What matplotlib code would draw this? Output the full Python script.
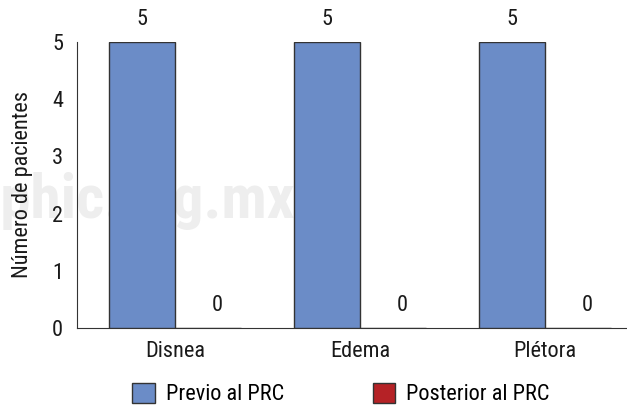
import numpy as np
import matplotlib.pyplot as plt

categories = ["Disnea", "Edema", "Plétora"]
previo = [5, 5, 5]
posterior = [0, 0, 0]
series_names = ["Previo al PRC", "Posterior al PRC"]
y_ticks = [0, 1, 2, 3, 4, 5]

plt.rcParams["font.family"] = ["Roboto Condensed", "Liberation Sans", "DejaVu Sans"]
FS = 16
TXT = "#1a1a1a"

fig = plt.figure(figsize=(6.27, 4.11), dpi=100)
ax = fig.add_axes([77 / 627, 83 / 411, 1 - 77 / 627, (328 - 42) / 411])

x = np.arange(len(categories))
w = 0.357
b1 = ax.bar(x - w / 2, previo, w, color="#6b8cc7", edgecolor="#333333", linewidth=1.0,
            label=series_names[0], zorder=3)
b2 = ax.bar(x + w / 2, posterior, w, color="#b52226", edgecolor="#333333", linewidth=1.0,
            label=series_names[1], zorder=3)

for bars, vals in ((b1, previo), (b2, posterior)):
    for rect, v in zip(bars, vals):
        ax.text(rect.get_x() + rect.get_width() / 2 + (0.05 if v == 0 else 0), v + 0.4, str(v),
                ha="center", va="center", fontsize=FS, color=TXT)

# faint watermark behind the bars
ax.text(295 / 627, 210 / 411, "medigraphic.org.mx", transform=fig.transFigure,
        ha="right", va="center", fontsize=44, fontweight="bold", color="#eeeeee", zorder=0)

ax.set_xlim(-0.53, 2.443)
ax.set_ylim(0, 5)
ax.set_yticks(y_ticks)
ax.set_xticks(x)
ax.set_xticklabels(categories)
ax.tick_params(axis="both", length=0, labelsize=FS, colors=TXT)
ax.tick_params(axis="x", pad=9)
ax.tick_params(axis="y", pad=10)
ax.set_ylabel("Número de pacientes", fontsize=FS, color=TXT, labelpad=14)

for s in ("top", "right"):
    ax.spines[s].set_visible(False)
ax.spines["left"].set_color("#333333")
ax.spines["bottom"].set_color("#333333")
ax.set_facecolor("none")

fig.legend(handles=[b1, b2], labels=series_names, loc="lower center",
           bbox_to_anchor=(341 / 627, -0.035), ncol=2, frameon=False, fontsize=FS,
           handlelength=1.0, handleheight=1.0, handletextpad=0.5, columnspacing=4.0)

plt.savefig("out.png", dpi=100)
plt.close()
